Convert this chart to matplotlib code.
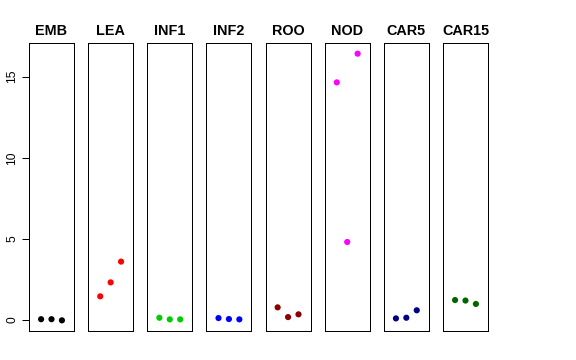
import numpy as np
import matplotlib
matplotlib.use('Agg')
import matplotlib.pyplot as plt

tissues = ['EMB', 'LEA', 'INF1', 'INF2', 'ROO', 'NOD', 'CAR5', 'CAR15']
colors = ['black', 'red', '#00CD00', 'blue', '#8B0000', 'magenta', '#000080', '#006400']

# three replicates per tissue
emb = [0.05, 0.05, -0.02]
lea = [1.46, 2.32, 3.60]
inf1 = [0.14, 0.04, 0.04]
inf2 = [0.12, 0.06, 0.04]
roo = [0.78, 0.18, 0.35]
nod = [14.65, 4.81, 16.42]
car5 = [0.10, 0.14, 0.60]
car15 = [1.23, 1.20, 0.99]
values = [emb, lea, inf1, inf2, roo, nod, car5, car15]

yticks = [0, 5, 10, 15]


def main():
    plt.rcParams['font.family'] = ['Liberation Sans', 'DejaVu Sans']
    fig = plt.figure(figsize=(8, 5), dpi=72)
    W, H = 576.0, 360.0

    allv = np.concatenate(values)
    pad = 0.04 * (allv.max() - allv.min())
    ylim = (allv.min() - pad, allv.max() + pad)

    left0, step, width = 29.0, 59.14, 45.0
    top, bottom = 43.0, 331.0

    for i, (name, vals, col) in enumerate(zip(tissues, values, colors)):
        ax = fig.add_axes([(left0 + i * step) / W, (H - bottom) / H,
                           width / W, (bottom - top) / H])
        x = np.arange(1, len(vals) + 1)
        ax.scatter(x, vals, s=38, color=col, edgecolors='none', zorder=3)
        ax.set_xlim(-0.16, 4.16)
        ax.set_ylim(*ylim)
        ax.set_xticks([])
        ax.set_title(name, fontsize=14.4, fontweight='bold', pad=8)
        for sp in ax.spines.values():
            sp.set_linewidth(1.0)
            sp.set_color('black')
        if i == 0:
            ax.set_yticks(yticks)
            ax.set_yticklabels([str(t) for t in yticks], rotation=90,
                               va='center', fontsize=12)
            ax.tick_params(axis='y', length=7, width=1, pad=4)
        else:
            ax.set_yticks([])

    fig.savefig('out.png', dpi=72)
    plt.close(fig)


if __name__ == '__main__':
    main()
